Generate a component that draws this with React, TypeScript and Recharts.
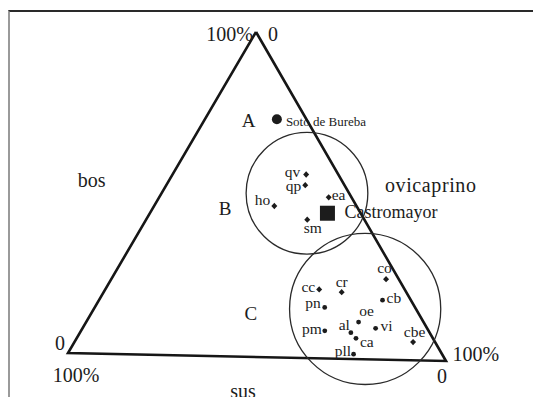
import React from 'react';
import { ScatterChart, Scatter, XAxis, YAxis } from 'recharts';

// ---------- data (percentages: bos / ovicaprino / sus) ----------
const SITE_NAMES = ['Soto de Bureba', 'Castromayor', 'qv', 'qp', 'ho', 'ea', 'sm', 'co', 'cc', 'cr', 'cb', 'pn', 'oe', 'al', 'vi', 'pm', 'ca', 'cbe', 'pll'];
const BOS = [73.3, 44.7, 56.5, 53.2, 46.6, 49.6, 42.6, 24.8, 21.2, 20.5, 18.3, 15.7, 11.4, 8.1, 9.6, 8.5, 6.4, 5.6, 1.5];
const OVI = [18.8, 46.4, 34.9, 36.3, 31.4, 44.3, 42.1, 71.8, 55.9, 62.2, 74.1, 60.1, 71.2, 70.8, 76.6, 63.7, 73.0, 88.5, 74.8];
const SUS = [7.9, 8.9, 8.6, 10.5, 22.0, 6.1, 15.3, 3.4, 22.9, 17.3, 7.6, 24.2, 17.4, 21.1, 13.8, 27.8, 20.6, 5.9, 23.7];
const SITE_KIND = ['bigdot', 'square', 'diamond', 'diamond', 'diamond', 'diamond', 'diamond', 'diamond', 'diamond', 'diamond', 'dot', 'dot', 'dot', 'dot', 'dot', 'dot', 'dot', 'diamond', 'dot'];

// groups (zones)
const GROUP_NAMES = ['A', 'B', 'C'];
const ZONE_NAMES = ['B', 'C'];
const ZONE_BOS = [50.7, 15.5];
const ZONE_OVI = [38.0, 70.9];
const ZONE_SUS = [11.3, 13.6];
const ZONE_RADIUS = [16.1, 20.0]; // % of triangle side

const AXIS_TITLES = ['bos', 'ovicaprino', 'sus'];
const VERTEX_TEXT = ['100%', '0'];

// ---------- layout ----------
const W = 541;
const H = 405;
const V_TOP = { x: 49.74, y: 84.92 };
const V_LEFT = { x: 0, y: 0 };
const V_RIGHT = { x: 100, y: -2.12 };
const X_DOMAIN: [number, number] = [-17.99, 125.13];
const Y_DOMAIN: [number, number] = [-13.76, 93.39];
const PX_PER_UNIT = W / (X_DOMAIN[1] - X_DOMAIN[0]);
const FONT = '"Liberation Serif", "DejaVu Serif", serif';
const INK = '#1c1c1c';

function project(bos: number, ovi: number, sus: number) {
  const t = bos + ovi + sus;
  const a = bos / t, b = ovi / t, c = sus / t;
  return {
    x: a * V_TOP.x + b * V_RIGHT.x + c * V_LEFT.x,
    y: a * V_TOP.y + b * V_RIGHT.y + c * V_LEFT.y,
  };
}

// label placement relative to marker: [anchor, dx, dy(baseline), fontSize]
const LABEL_PLACE: Record<string, [string, number, number, number]> = {
  'Soto de Bureba': ['start', 9, 6.5, 13],
  Castromayor: ['start', 17, 5, 18],
  qv: ['end', -6, 3, 15.5],
  qp: ['end', -4, 5.5, 15.5],
  ho: ['end', -4, -1, 15.5],
  ea: ['start', 3, 2.5, 15.5],
  sm: ['middle', 5.5, 13, 15.5],
  co: ['middle', -1.5, -6, 15.5],
  cc: ['end', -4, 3, 15.5],
  cr: ['middle', 0, -5, 15.5],
  cb: ['start', 4, 3, 15.5],
  pn: ['end', -4, 1, 15.5],
  oe: ['middle', 8, -6, 15.5],
  al: ['end', -1, -3, 15.5],
  vi: ['start', 5, 2.5, 15.5],
  pm: ['end', -3, 3, 15.5],
  ca: ['start', 4, 9, 15.5],
  cbe: ['middle', 1.5, -5, 15.5],
  pll: ['end', -2.5, 2, 15.5],
};

// group letter positions (ternary bos/ovi/sus)
const GROUP_LABEL_POS = [
  [72.7, 11.6, 15.7],
  [45.6, 18.9, 35.5],
  [13.4, 41.7, 44.9],
];

const sites = SITE_NAMES.map((name, i) => ({
  name,
  kind: SITE_KIND[i],
  ...project(BOS[i], OVI[i], SUS[i]),
}));

const zones = ZONE_NAMES.map((name, i) => ({
  name,
  r: ZONE_RADIUS[i],
  ...project(ZONE_BOS[i], ZONE_OVI[i], ZONE_SUS[i]),
}));

const triangle = [
  project(100, 0, 0),
  project(0, 100, 0),
  project(0, 0, 100),
  project(100, 0, 0),
];

const groupLabels = GROUP_NAMES.map((name, i) => ({
  text: name,
  anchor: 'middle',
  dx: 0,
  dy: 6.5,
  size: 19,
  ...project(GROUP_LABEL_POS[i][0], GROUP_LABEL_POS[i][1], GROUP_LABEL_POS[i][2]),
}));

const top = project(100, 0, 0);
const left = project(0, 0, 100);
const right = project(0, 100, 0);
const mid = (p: any, q: any) => ({ x: (p.x + q.x) / 2, y: (p.y + q.y) / 2 });

const cornerLabels = [
  { ...top, text: VERTEX_TEXT[0], anchor: 'end', dx: -3, dy: 8.5, size: 20 },
  { ...top, text: VERTEX_TEXT[1], anchor: 'start', dx: 12, dy: 8.5, size: 20 },
  { ...left, text: VERTEX_TEXT[1], anchor: 'end', dx: -3, dy: -2.5, size: 20 },
  { ...left, text: VERTEX_TEXT[0], anchor: 'middle', dx: 8, dy: 28.7, size: 20 },
  { ...right, text: VERTEX_TEXT[0], anchor: 'start', dx: 6.5, dy: 0, size: 20 },
  { ...right, text: VERTEX_TEXT[1], anchor: 'middle', dx: -4, dy: 22, size: 20 },
];

const titleLabels = [
  { ...mid(left, top), text: AXIS_TITLES[0], anchor: 'middle', dx: -70.3, dy: -5.2, size: 20 },
  { ...mid(top, right), text: AXIS_TITLES[1], anchor: 'start', dx: 34, dy: -4.8, size: 20, spacing: 0.6 },
  { ...mid(left, right), text: AXIS_TITLES[2], anchor: 'middle', dx: -14, dy: 41, size: 20 },
];

const textLabels = [...groupLabels, ...cornerLabels, ...titleLabels];

const SiteShape = (props: any) => {
  const { cx, cy, payload } = props;
  if (cx == null || cy == null) return <g />;
  const [anchor, dx, dy, size] = LABEL_PLACE[payload.name];
  let marker: any = null;
  if (payload.kind === 'bigdot') marker = <circle cx={cx} cy={cy} r={5} fill={INK} />;
  else if (payload.kind === 'square')
    marker = <rect x={cx - 7.5} y={cy - 7.5} width={15} height={15} fill={INK} />;
  else if (payload.kind === 'dot') marker = <circle cx={cx} cy={cy} r={2.4} fill={INK} />;
  else
    marker = (
      <path
        d={`M${cx},${cy - 3.2} L${cx + 3},${cy} L${cx},${cy + 3.2} L${cx - 3},${cy} Z`}
        fill={INK}
      />
    );
  return (
    <g>
      {marker}
      <text
        x={cx + dx}
        y={cy + dy}
        textAnchor={anchor}
        fontSize={size}
        fontFamily={FONT}
        fill={INK}
      >
        {payload.name}
      </text>
    </g>
  );
};

const ZoneShape = (props: any) => {
  const { cx, cy, payload } = props;
  if (cx == null || cy == null) return <g />;
  return (
    <circle cx={cx} cy={cy} r={payload.r * PX_PER_UNIT} fill="none" stroke="#2a2a2a" strokeWidth={1.3} />
  );
};

const TextShape = (props: any) => {
  const { cx, cy, payload } = props;
  if (cx == null || cy == null) return <g />;
  return (
    <text
      x={cx + payload.dx}
      y={cy + payload.dy}
      textAnchor={payload.anchor}
      fontSize={payload.size}
      fontFamily={FONT}
      letterSpacing={payload.spacing || 0}
      fill={INK}
    >
      {payload.text}
    </text>
  );
};

const Empty = () => <g />;

export default function App() {
  return (
    <div style={{ position: 'relative', margin: -8, width: W, height: H, overflow: 'hidden', background: '#fff' }}>
      <div
        style={{
          position: 'absolute',
          left: 8,
          top: 10,
          width: W - 8,
          height: H,
          borderTop: '2px solid #2a2a2a',
          borderLeft: '2px solid #9a9a9a',
          boxSizing: 'border-box',
        }}
      />
      <div style={{ position: 'absolute', left: 0, top: 0 }}>
        <ScatterChart width={W} height={H} margin={{ top: 0, right: 0, bottom: 0, left: 0 }}>
          <XAxis type="number" dataKey="x" domain={X_DOMAIN} hide allowDataOverflow />
          <YAxis type="number" dataKey="y" domain={Y_DOMAIN} hide allowDataOverflow />
          <Scatter
            data={triangle}
            line={{ stroke: '#161616', strokeWidth: 2.6, strokeLinejoin: 'miter' }}
            lineType="joint"
            shape={Empty}
            isAnimationActive={false}
          />
          <Scatter data={zones} shape={ZoneShape} isAnimationActive={false} />
          <Scatter data={sites} shape={SiteShape} isAnimationActive={false} />
          <Scatter data={textLabels} shape={TextShape} isAnimationActive={false} />
        </ScatterChart>
      </div>
    </div>
  );
}
